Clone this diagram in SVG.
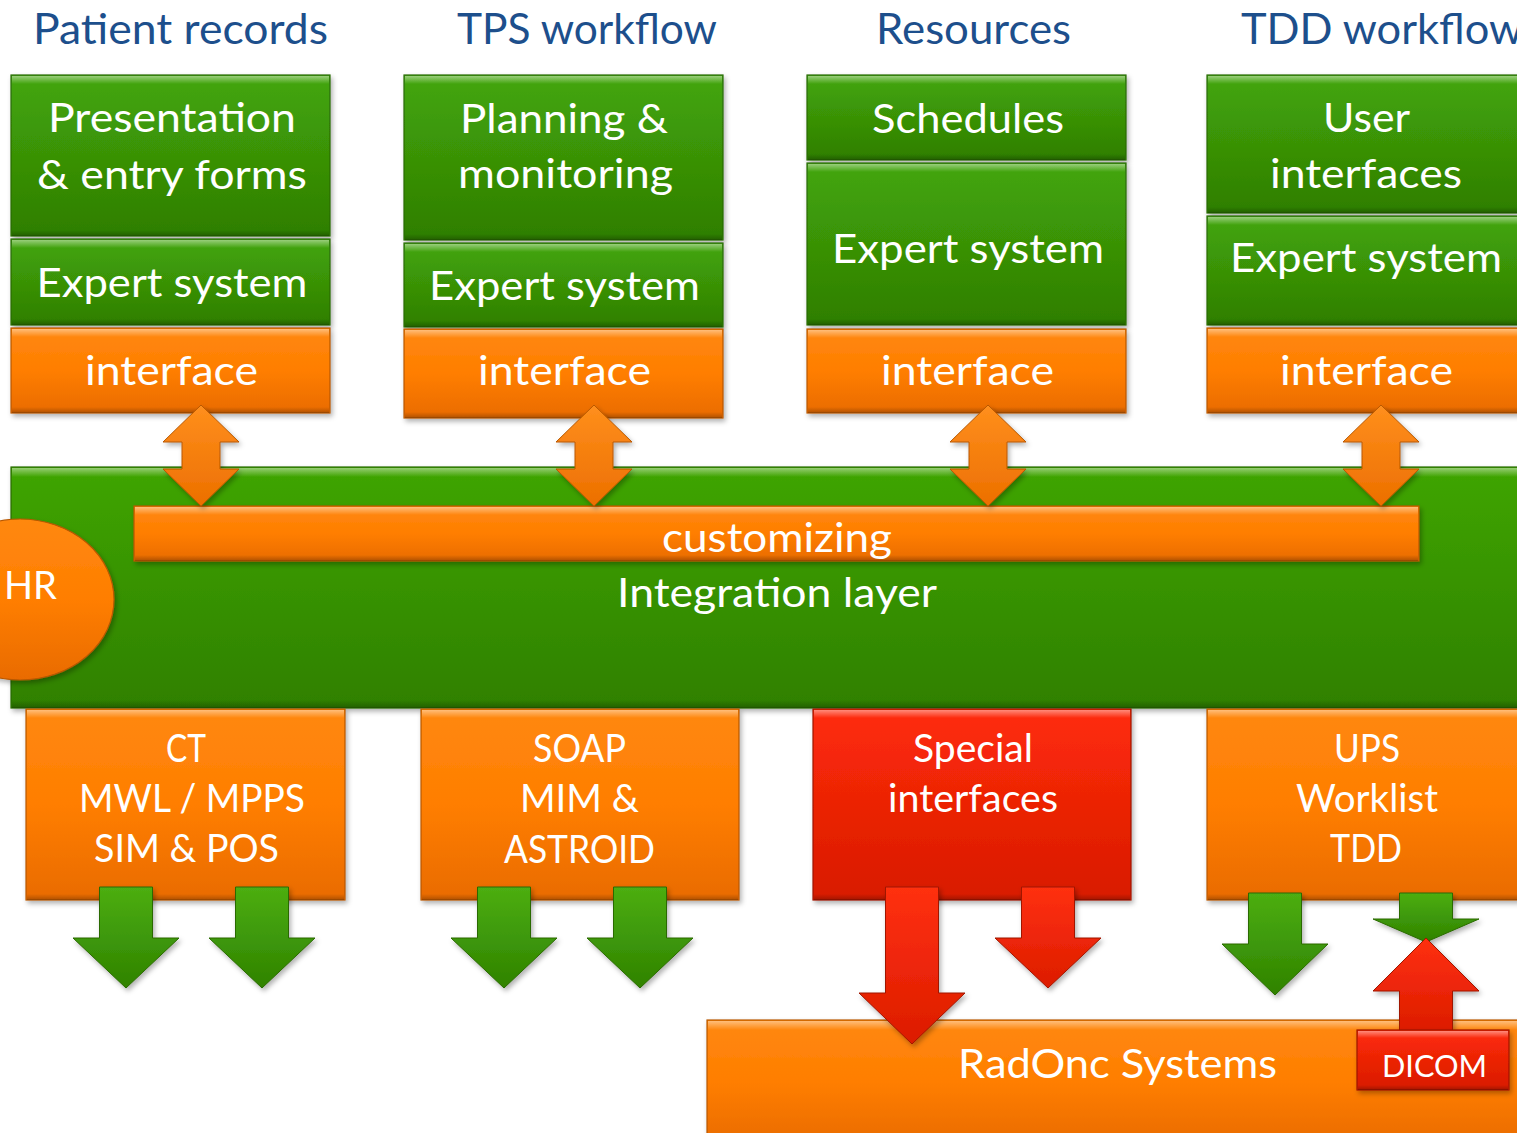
<svg xmlns="http://www.w3.org/2000/svg" width="1517" height="1133" viewBox="0 0 1517 1133">
<defs>
<linearGradient id="gG" x1="0" y1="0" x2="0" y2="1"><stop offset="0" stop-color="#44a60a"/><stop offset="1" stop-color="#2e7e02"/></linearGradient>
<linearGradient id="gInt" x1="0" y1="0" x2="0" y2="1"><stop offset="0" stop-color="#3fa506"/><stop offset="1" stop-color="#2f8000"/></linearGradient>
<linearGradient id="gO" x1="0" y1="0" x2="0" y2="1"><stop offset="0" stop-color="#ff8810"/><stop offset="0.5" stop-color="#ff7e00"/><stop offset="1" stop-color="#e96b00"/></linearGradient>
<linearGradient id="gR" x1="0" y1="0" x2="0" y2="1"><stop offset="0" stop-color="#ff2c0a"/><stop offset="1" stop-color="#d81a00"/></linearGradient>
<linearGradient id="gAG" x1="0" y1="0" x2="0" y2="1"><stop offset="0" stop-color="#4cae12"/><stop offset="1" stop-color="#2f8200"/></linearGradient>
<linearGradient id="gAO" x1="0" y1="0" x2="0" y2="1"><stop offset="0" stop-color="#ff8f1c"/><stop offset="1" stop-color="#ec6f00"/></linearGradient>
<linearGradient id="gAR" x1="0" y1="0" x2="0" y2="1"><stop offset="0" stop-color="#ff3010"/><stop offset="1" stop-color="#dc1c00"/></linearGradient>
<linearGradient id="hlG" x1="0" y1="0" x2="0" y2="1"><stop offset="0" stop-color="#ffffff" stop-opacity="0.45"/><stop offset="1" stop-color="#ffffff" stop-opacity="0"/></linearGradient>
<linearGradient id="shG" x1="0" y1="0" x2="0" y2="1"><stop offset="0" stop-color="#000000" stop-opacity="0"/><stop offset="1" stop-color="#000000" stop-opacity="0.25"/></linearGradient>
<filter id="ds" x="-5%" y="-5%" width="115%" height="125%"><feDropShadow dx="2" dy="3" stdDeviation="2.5" flood-color="#000" flood-opacity="0.3"/></filter>
</defs>
<style>
.g{fill:url(#gG);stroke:#2a6a08;stroke-width:1.2;filter:url(#ds)}
.o{fill:url(#gO);stroke:#b85800;stroke-width:1.2;filter:url(#ds)}
.r{fill:url(#gR);stroke:#9e1400;stroke-width:1.2;filter:url(#ds)}
.hl{fill:url(#hlG)}
.sh{fill:url(#shG)}
.t{font-family:Lato,"Open Sans",sans-serif;fill:#ffffff;text-anchor:middle;font-size:41px}
.ts{font-family:Lato,"Open Sans",sans-serif;fill:#ffffff;text-anchor:middle;font-size:38px}
.h{font-family:Lato,"Open Sans",sans-serif;fill:#1d4f8c;text-anchor:middle;font-size:42px}
.ag{fill:url(#gAG);stroke:#2a6a05;stroke-width:1;filter:url(#ds)}
.ao{fill:url(#gAO);stroke:#b85800;stroke-width:1;filter:url(#ds)}
.ar{fill:url(#gAR);stroke:#a01500;stroke-width:1;filter:url(#ds)}
</style>
<rect width="1517" height="1133" fill="#ffffff"/>

<g id="headings">
<text class="h" x="180.5" y="44" textLength="295" lengthAdjust="spacingAndGlyphs">Patient records</text>
<text class="h" x="587" y="44" textLength="260" lengthAdjust="spacingAndGlyphs">TPS workflow</text>
<text class="h" x="973.5" y="44" textLength="195" lengthAdjust="spacingAndGlyphs">Resources</text>
<text class="h" x="1241" y="44" style="text-anchor:start" textLength="282" lengthAdjust="spacingAndGlyphs">TDD workflow</text>
</g>

<g id="col1-presentation"><rect class="g" x="11" y="75" width="319" height="161"/><rect class="hl" x="12" y="76" width="317" height="8"/><rect class="sh" x="12" y="230" width="317" height="6"/>
<text class="t" x="172" y="132" textLength="248" lengthAdjust="spacingAndGlyphs">Presentation</text>
<text class="t" x="172" y="189" textLength="270" lengthAdjust="spacingAndGlyphs">&amp; entry forms</text></g>
<g id="col1-expert"><rect class="g" x="11" y="239" width="319" height="86"/><rect class="hl" x="12" y="240" width="317" height="8"/><rect class="sh" x="12" y="319" width="317" height="6"/>
<text class="t" x="172" y="297" textLength="271" lengthAdjust="spacingAndGlyphs">Expert system</text></g>
<g id="col1-interface"><rect class="o" x="11" y="328" width="319" height="85"/><rect class="hl" x="12" y="329" width="317" height="8"/><rect class="sh" x="12" y="407" width="317" height="6"/>
<text class="t" x="171.5" y="385" textLength="173" lengthAdjust="spacingAndGlyphs">interface</text></g>

<g id="col2-planning"><rect class="g" x="404" y="75" width="319" height="165"/><rect class="hl" x="405" y="76" width="317" height="8"/><rect class="sh" x="405" y="234" width="317" height="6"/>
<text class="t" x="564" y="133" textLength="208" lengthAdjust="spacingAndGlyphs">Planning &amp;</text>
<text class="t" x="565.5" y="188" textLength="215" lengthAdjust="spacingAndGlyphs">monitoring</text></g>
<g id="col2-expert"><rect class="g" x="404" y="243" width="319" height="84"/><rect class="hl" x="405" y="244" width="317" height="8"/><rect class="sh" x="405" y="321" width="317" height="6"/>
<text class="t" x="564.5" y="300" textLength="271" lengthAdjust="spacingAndGlyphs">Expert system</text></g>
<g id="col2-interface"><rect class="o" x="404" y="329" width="319" height="89"/><rect class="hl" x="405" y="330" width="317" height="8"/><rect class="sh" x="405" y="412" width="317" height="6"/>
<text class="t" x="564.5" y="385" textLength="173" lengthAdjust="spacingAndGlyphs">interface</text></g>

<g id="col3-schedules"><rect class="g" x="807" y="75" width="319" height="85"/><rect class="hl" x="808" y="76" width="317" height="8"/><rect class="sh" x="808" y="154" width="317" height="6"/>
<text class="t" x="968" y="133" textLength="192" lengthAdjust="spacingAndGlyphs">Schedules</text></g>
<g id="col3-expert"><rect class="g" x="807" y="163" width="319" height="162"/><rect class="hl" x="808" y="164" width="317" height="8"/><rect class="sh" x="808" y="319" width="317" height="6"/>
<text class="t" x="968" y="263" textLength="272" lengthAdjust="spacingAndGlyphs">Expert system</text></g>
<g id="col3-interface"><rect class="o" x="807" y="329" width="319" height="84"/><rect class="hl" x="808" y="330" width="317" height="8"/><rect class="sh" x="808" y="407" width="317" height="6"/>
<text class="t" x="967.5" y="385" textLength="173" lengthAdjust="spacingAndGlyphs">interface</text></g>

<g id="col4-ui"><rect class="g" x="1207" y="75" width="325" height="138"/><rect class="hl" x="1208" y="76" width="323" height="8"/><rect class="sh" x="1208" y="207" width="323" height="6"/>
<text class="t" x="1366.5" y="132" textLength="87" lengthAdjust="spacingAndGlyphs">User</text>
<text class="t" x="1366" y="188" textLength="192" lengthAdjust="spacingAndGlyphs">interfaces</text></g>
<g id="col4-expert"><rect class="g" x="1207" y="216" width="325" height="109"/><rect class="hl" x="1208" y="217" width="323" height="8"/><rect class="sh" x="1208" y="319" width="323" height="6"/>
<text class="t" x="1366" y="272" textLength="272" lengthAdjust="spacingAndGlyphs">Expert system</text></g>
<g id="col4-interface"><rect class="o" x="1207" y="328" width="325" height="85"/><rect class="hl" x="1208" y="329" width="323" height="8"/><rect class="sh" x="1208" y="407" width="323" height="6"/>
<text class="t" x="1366.5" y="385" textLength="173" lengthAdjust="spacingAndGlyphs">interface</text></g>

<g id="integration-layer"><rect x="11" y="467" width="1520" height="241" fill="url(#gInt)" stroke="#2a6a08" stroke-width="1.2" filter="url(#ds)"/><rect class="hl" x="12" y="468" width="1510" height="9"/><rect class="sh" x="12" y="700" width="1510" height="8"/>
<text class="t" x="777" y="607" textLength="320" lengthAdjust="spacingAndGlyphs">Integration layer</text></g>

<g id="customizing"><rect class="o" x="134" y="506" width="1285" height="55"/><rect class="hl" x="135" y="507" width="1283" height="8"/><rect class="sh" x="135" y="555" width="1283" height="6"/>
<text class="t" x="777" y="552" textLength="230" lengthAdjust="spacingAndGlyphs">customizing</text></g>

<g id="hr"><ellipse cx="20" cy="599.5" rx="94" ry="80.5" fill="url(#gO)" stroke="#b85800" stroke-width="1.2" filter="url(#ds)"/>
<text class="ts" x="4" y="599" style="text-anchor:start" textLength="53" lengthAdjust="spacingAndGlyphs">HR</text></g>

<g id="ct-box"><rect class="o" x="26" y="709" width="319" height="191"/><rect class="hl" x="27" y="710" width="317" height="8"/><rect class="sh" x="27" y="894" width="317" height="6"/>
<text class="ts" x="186" y="762" textLength="40" lengthAdjust="spacingAndGlyphs">CT</text>
<text class="ts" x="192" y="812" textLength="226" lengthAdjust="spacingAndGlyphs">MWL / MPPS</text>
<text class="ts" x="186.5" y="862" textLength="185" lengthAdjust="spacingAndGlyphs">SIM &amp; POS</text></g>

<g id="soap-box"><rect class="o" x="421" y="709" width="318" height="191"/><rect class="hl" x="422" y="710" width="316" height="8"/><rect class="sh" x="422" y="894" width="316" height="6"/>
<text class="ts" x="579.5" y="762" textLength="93" lengthAdjust="spacingAndGlyphs">SOAP</text>
<text class="ts" x="579.5" y="812" textLength="119" lengthAdjust="spacingAndGlyphs">MIM &amp;</text>
<text class="ts" x="579.5" y="863" textLength="151" lengthAdjust="spacingAndGlyphs">ASTROID</text></g>

<g id="special-box"><rect class="r" x="813" y="709" width="318" height="191"/><rect class="hl" x="814" y="710" width="316" height="8"/><rect class="sh" x="814" y="894" width="316" height="6"/>
<text class="ts" x="973" y="762" textLength="120" lengthAdjust="spacingAndGlyphs">Special</text>
<text class="ts" x="973" y="812" textLength="170" lengthAdjust="spacingAndGlyphs">interfaces</text></g>

<g id="ups-box"><rect class="o" x="1207" y="709" width="325" height="191"/><rect class="hl" x="1208" y="710" width="323" height="8"/><rect class="sh" x="1208" y="894" width="323" height="6"/>
<text class="ts" x="1367" y="762" textLength="66" lengthAdjust="spacingAndGlyphs">UPS</text>
<text class="ts" x="1367" y="812" textLength="142" lengthAdjust="spacingAndGlyphs">Worklist</text>
<text class="ts" x="1366" y="862" textLength="72" lengthAdjust="spacingAndGlyphs">TDD</text></g>

<g id="radonc"><rect class="o" x="707" y="1020" width="825" height="125"/><rect class="hl" x="708" y="1021" width="823" height="9"/>
<text class="t" x="1117.5" y="1078" textLength="319" lengthAdjust="spacingAndGlyphs">RadOnc Systems</text></g>

<g id="connectors">
<path class="ao" d="M201,405 L239,442 H220 V469 H239 L201,506 L163,469 H182 V442 H163 Z"/>
<path class="ao" d="M594,405 L632,442 H613 V469 H632 L594,506 L556,469 H575 V442 H556 Z"/>
<path class="ao" d="M988,405 L1026,442 H1007 V469 H1026 L988,506 L950,469 H969 V442 H950 Z"/>
<path class="ao" d="M1381,405 L1419,442 H1400 V469 H1419 L1381,506 L1343,469 H1362 V442 H1343 Z"/>
<path class="ag" d="M99.5,887 H152.5 V938 H179 L126,988 L73,938 H99.5 Z"/>
<path class="ag" d="M235.5,887 H288.5 V938 H315 L262,988 L209,938 H235.5 Z"/>
<path class="ag" d="M477.5,887 H530.5 V938 H557 L504,988 L451,938 H477.5 Z"/>
<path class="ag" d="M613.5,887 H666.5 V938 H693 L640,988 L587,938 H613.5 Z"/>
<path class="ag" d="M1248.5,893 H1301.5 V944 H1328 L1275,995 L1222,944 H1248.5 Z"/>
<path class="ag" d="M1399.5,893 H1452.5 V919 H1479 L1426,942 L1373,919 H1399.5 Z"/>
<path class="ar" d="M885.5,887 H938.5 V993 H965 L912,1044 L859,993 H885.5 Z"/>
<path class="ar" d="M1021.5,887 H1074.5 V938 H1101 L1048,988 L995,938 H1021.5 Z"/>
<path class="ar" d="M1426,938 L1479,991 H1452.5 V1032 H1399.5 V991 H1373 Z"/>
</g>

<g id="dicom"><rect class="r" x="1357" y="1030" width="152" height="60"/><rect class="hl" x="1358" y="1031" width="150" height="7"/><rect class="sh" x="1358" y="1085" width="150" height="5"/>
<text class="ts" x="1434.5" y="1077" style="font-size:31px" textLength="105" lengthAdjust="spacingAndGlyphs">DICOM</text></g>
</svg>
